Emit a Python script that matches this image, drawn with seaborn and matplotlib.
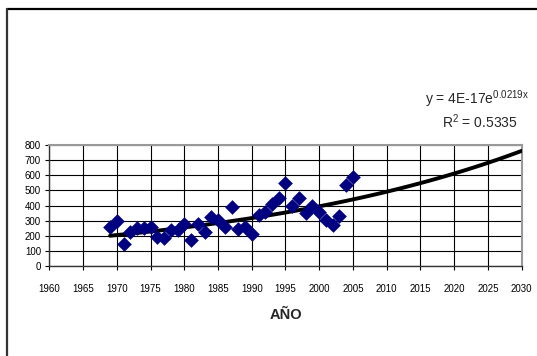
import numpy as np
import pandas as pd
import matplotlib
matplotlib.use("Agg")
import matplotlib.pyplot as plt
from matplotlib.lines import Line2D
import seaborn as sns

# Observed yearly values
years = [1969, 1970, 1971, 1972, 1973, 1974, 1975, 1976, 1977, 1978,
         1979, 1980, 1981, 1982, 1983, 1984, 1985, 1986, 1987, 1988,
         1989, 1990, 1991, 1992, 1993, 1994, 1995, 1996, 1997, 1998,
         1999, 2000, 2001, 2002, 2003, 2004, 2005]
values = [260, 295, 145, 225, 253, 253, 260, 195, 183, 238,
          240, 280, 172, 278, 225, 322, 305, 258, 392, 245,
          260, 214, 340, 355, 412, 450, 552, 400, 450, 352,
          395, 360, 304, 271, 331, 535, 586]

# Exponential trend y = a * exp(b * x)
trend_a = 3.75e-17
trend_b = 0.0219
trend_r2 = 0.5335
trend_start, trend_end = 1969, 2030

x_ticks = list(range(1960, 2031, 5))
y_ticks = list(range(0, 801, 100))
x_label = "AÑO"

sns.set_style("white")
plt.rcParams["font.family"] = ["Liberation Sans Narrow", "Liberation Sans", "DejaVu Sans"]

df = pd.DataFrame({"year": years, "value": values})
trend_x = np.arange(trend_start, trend_end + 1)
trend = pd.DataFrame({"year": trend_x, "value": trend_a * np.exp(trend_b * trend_x)})

fig = plt.figure(figsize=(5.37, 3.56), dpi=100)
ax = fig.add_axes([0.0918, 0.2528, 0.8797, 0.3399])

sns.lineplot(data=trend, x="year", y="value", ax=ax, color="black",
             linewidth=2.8, zorder=3)
sns.scatterplot(data=df, x="year", y="value", ax=ax, marker="D", s=56,
                color="#000080", edgecolor="#000080", linewidth=0, zorder=4)

ax.set_xlim(1960, 2030)
ax.set_ylim(0, 800)
ax.set_xticks(x_ticks)
ax.set_yticks(y_ticks)
ax.grid(True, color="black", linewidth=0.8)
ax.set_axisbelow(True)
for side in ("left", "bottom"):
    ax.spines[side].set_color("#333333")
    ax.spines[side].set_linewidth(1.0)
for side in ("top", "right"):
    ax.spines[side].set_color("#999999")
    ax.spines[side].set_linewidth(1.5)

ax.tick_params(axis="x", direction="out", length=3, width=0.8, pad=10,
               labelsize=7, colors="black", bottom=True)
ax.tick_params(axis="y", direction="out", length=3, width=0.8, pad=3,
               labelsize=7, colors="black", left=True)
ax.set_xlabel(x_label, fontsize=10.5, fontweight="bold", labelpad=10,
              family=["Liberation Sans", "DejaVu Sans"])
ax.set_ylabel("")

coef_txt = f"{trend_a:.0E}".replace("E-", "E- ").replace("E- 0", "E- ").replace("E- ", "E-")
ax.text(0.905, 1.375, r"y = %s$\mathregular{e^{%.4fx}}$" % (coef_txt, trend_b),
        transform=ax.transAxes, ha="center", va="center", fontsize=10)
ax.text(0.912, 1.19, r"R$\mathregular{^2}$ = %.4f" % trend_r2,
        transform=ax.transAxes, ha="center", va="center", fontsize=10)

# Outer frame: top and left edges
fig.add_artist(Line2D([6.5 / 537, 1.0], [1 - 9 / 356, 1 - 9 / 356],
                      transform=fig.transFigure, color="black", linewidth=1.6))
fig.add_artist(Line2D([6.5 / 537, 6.5 / 537], [0.0, 1 - 9 / 356],
                      transform=fig.transFigure, color="#333333", linewidth=1.6))

fig.savefig("out.png", dpi=100)
